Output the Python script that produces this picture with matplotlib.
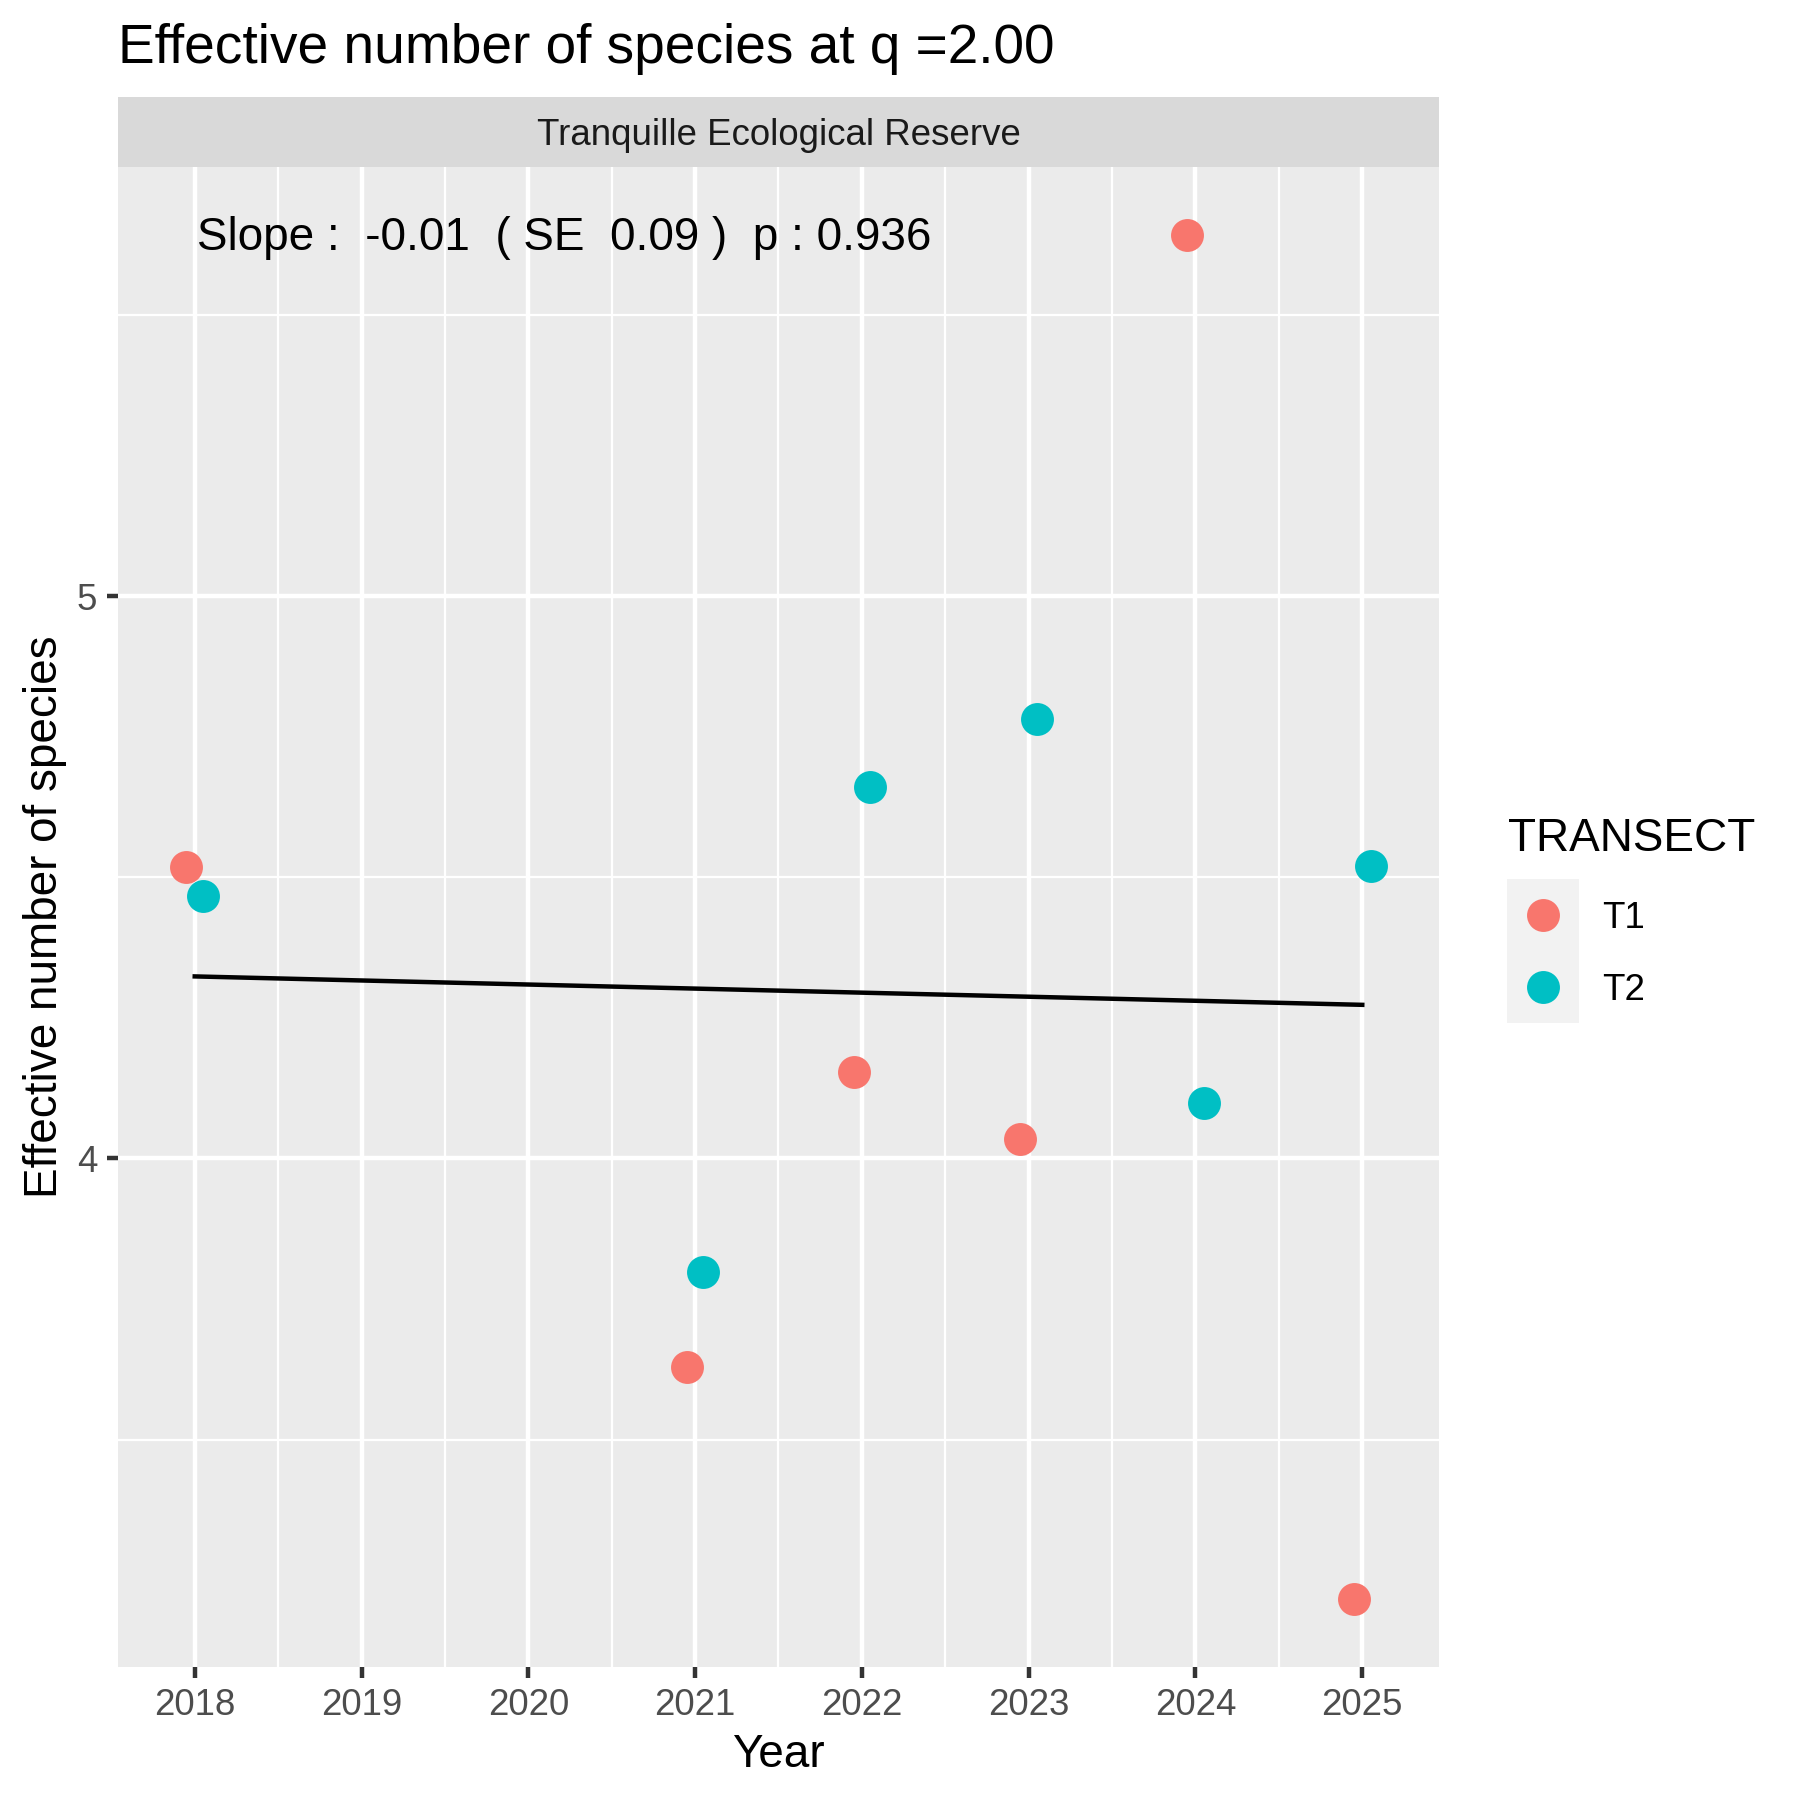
import numpy as np
import matplotlib.pyplot as plt

plt.rcParams['font.family'] = ['Liberation Sans', 'DejaVu Sans']

# data
years = [2018, 2021, 2022, 2023, 2024, 2025]
t1_vals = [4.518, 3.630, 4.154, 4.034, 5.643, 3.217]
t2_vals = [4.467, 3.799, 4.661, 4.782, 4.099, 4.520]
transects = ["T1", "T2"]
colors = ["#F8766D", "#00BFC4"]
x_ticks = [2018, 2019, 2020, 2021, 2022, 2023, 2024, 2025]
y_ticks = [4, 5]

title = "Effective number of species at q =2.00"
strip_label = "Tranquille Ecological Reserve"
annot = "Slope :  -0.01  ( SE  0.09 )  p : 0.936"

W = 1800.0
fig = plt.figure(figsize=(6, 6), dpi=300)

# panel (pixel positions measured on the reference)
pl, pr, pt, pb = 118, 1439, 166.5, 1667
ax = fig.add_axes([pl / W, 1 - pb / W, (pr - pl) / W, (pb - pt) / W])
ax.set_facecolor("#EBEBEB")
for s in ax.spines.values():
    s.set_visible(False)

ax.set_xlim(2017.54, 2025.46)
ax.set_ylim(3.0957, 5.764)
ax.set_xticks(x_ticks)
ax.set_xticks([x + 0.5 for x in x_ticks[:-1]], minor=True)
ax.set_yticks(y_ticks)
ax.set_yticks([3.5, 4.5, 5.5], minor=True)
ax.grid(which="major", color="white", linewidth=1.07)
ax.grid(which="minor", color="white", linewidth=0.53)
ax.set_axisbelow(True)
ax.tick_params(which="major", length=2.75, width=1.07, color="#333333",
               labelsize=8.8, labelcolor="#4D4D4D", pad=2.2)
ax.tick_params(which="minor", length=0)

# points, dodged a little per transect
dodge = [-0.05, 0.05]
for vals, c, d in zip([t1_vals, t2_vals], colors, dodge):
    ax.plot(np.array(years) + d, vals, "o", color=c, ms=7.9, mew=0, zorder=3)

# linear fit over both transects
all_x = np.array(years + years, dtype=float)
all_y = np.array(t1_vals + t2_vals)
slope, intercept = np.polyfit(all_x, all_y, 1)
xl = np.array([min(years), max(years)], dtype=float)
ax.plot(xl, slope * xl + intercept, color="black", linewidth=1.07, zorder=2)

ax.annotate(annot, xy=(min(years), max(all_y)), xytext=(0.5, -3.6),
            textcoords="offset points", fontsize=11, ha="left",
            va="baseline", color="black")

# facet strip
sax = fig.add_axes([pl / W, 1 - pt / W, (pr - pl) / W, (pt - 97) / W])
sax.set_facecolor("#D9D9D9")
sax.set_xticks([])
sax.set_yticks([])
for s in sax.spines.values():
    s.set_visible(False)
fig.text((pl + pr) / 2 / W, 1 - 145 / W, strip_label, fontsize=8.8,
         color="#1A1A1A", ha="center", va="baseline")

# titles
fig.text(pl / W, 1 - 63 / W, title, fontsize=13.2, ha="left", va="baseline")
fig.text((pl + pr) / 2 / W, 1 - 1767 / W, "Year", fontsize=11,
         ha="center", va="baseline")
fig.text(57 / W, 1 - (pt + pb) / 2 / W, "Effective number of species",
         fontsize=11, rotation=90, rotation_mode="anchor",
         ha="center", va="baseline")

# legend
lax = fig.add_axes([1507 / W, 1 - 1023 / W, 72 / W, 144 / W])
lax.set_facecolor("#F2F2F2")
lax.set_xlim(0, 1)
lax.set_ylim(0, 2)
lax.set_xticks([])
lax.set_yticks([])
for s in lax.spines.values():
    s.set_visible(False)
for i, (lab, c) in enumerate(zip(transects, colors)):
    lax.plot([0.5], [1.5 - i], "o", color=c, ms=7.9, mew=0)
fig.text(1508 / W, 1 - 851 / W, "TRANSECT", fontsize=11, ha="left", va="baseline")
fig.text(1602 / W, 1 - 928 / W, transects[0], fontsize=8.8, ha="left", va="baseline")
fig.text(1602 / W, 1 - 1000 / W, transects[1], fontsize=8.8, ha="left", va="baseline")

fig.savefig("out.png", dpi=300)
